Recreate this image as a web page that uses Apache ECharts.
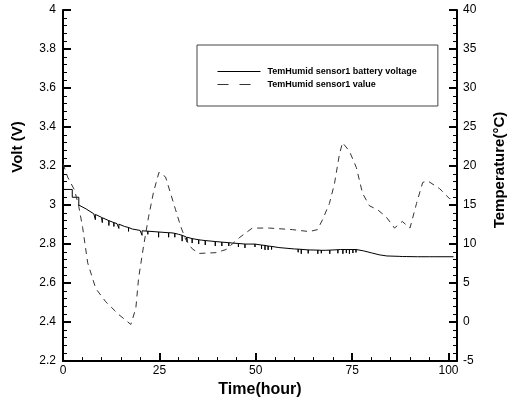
<!DOCTYPE html>
<html>
<head>
<meta charset="utf-8">
<script src="https://cdn.jsdelivr.net/npm/echarts@6/dist/echarts.min.js"></script>
<style>
  html, body { margin: 0; padding: 0; background: #fff; }
  #chart { width: 508px; height: 403px; }
</style>
</head>
<body>
<div id="chart"></div>
<script>
// x ticks (hours)
const timeTicks = [0, 25, 50, 75, 100];
const timeMinor = [5, 10, 15, 20, 30, 35, 40, 45, 55, 60, 65, 70, 80, 85, 90, 95];
const seriesNames = ["TemHumid sensor1 battery voltage", "TemHumid sensor1 value"];

// battery voltage, baseline [hour, V]
const voltBase = [
  [0, 3.08], [2.4, 3.08], [2.4, 3.04], [4.1, 3.04], [4.1, 3.0], [6, 2.98], [8, 2.955],
  [10, 2.937], [12, 2.92], [14, 2.905], [16, 2.89], [18, 2.877], [20, 2.87], [22, 2.866],
  [25, 2.862], [28, 2.858], [30, 2.85], [32, 2.836], [34, 2.826], [36, 2.82], [40, 2.812],
  [44, 2.805], [48, 2.8], [52, 2.792], [56, 2.782], [60, 2.775], [64, 2.77], [68, 2.768],
  [72, 2.772], [76.5, 2.772], [78, 2.765], [80, 2.755], [82, 2.745], [84, 2.739],
  [88, 2.736], [92, 2.735], [96, 2.735], [101.3, 2.735]
];
// short downward glitches [hour, level, low]
const voltSpikes = [
  [8.4, 2.952, 2.925], [10.2, 2.935, 2.91], [11.9, 2.92, 2.895], [13.2, 2.91, 2.89],
  [14.5, 2.902, 2.88], [17, 2.885, 2.865], [20.5, 2.868, 2.845], [22, 2.866, 2.85],
  [24.8, 2.862, 2.835], [27.4, 2.858, 2.835], [29, 2.855, 2.835], [30.9, 2.845, 2.815],
  [32.2, 2.835, 2.81], [33.5, 2.828, 2.805], [35.2, 2.822, 2.8], [36.9, 2.818, 2.795],
  [39.5, 2.813, 2.79], [41.2, 2.81, 2.79], [43, 2.807, 2.79], [45.5, 2.803, 2.785],
  [47.2, 2.8, 2.78], [49.8, 2.8, 2.785], [51.5, 2.795, 2.775], [52.4, 2.793, 2.77],
  [53.2, 2.79, 2.77], [54.1, 2.788, 2.772], [61, 2.774, 2.758], [61.8, 2.773, 2.75],
  [63.6, 2.77, 2.752], [66.1, 2.769, 2.75], [67, 2.768, 2.753], [69.2, 2.769, 2.75],
  [71.3, 2.771, 2.753], [72.6, 2.772, 2.75], [73.5, 2.772, 2.754], [74.3, 2.772, 2.75],
  [75.2, 2.772, 2.754], [76, 2.772, 2.757], [87.2, 2.737, 2.728], [89, 2.736, 2.727],
  [95, 2.735, 2.726]
];
// temperature [hour, °C]
const tempData = [
  [0, 20.3], [1.2, 18.6], [3.0, 16.9], [4.1, 14.8], [5.1, 12.1], [6.4, 7.6], [8.5, 4.3],
  [11.1, 2.6], [14.5, 0.95], [17.6, -0.3], [18.9, 1.8], [19.6, 5.6], [20.9, 9.75],
  [22.2, 13.5], [23.5, 16.7], [24.9, 19.2], [26.6, 18.6], [27.9, 16.5], [29.2, 14.4],
  [30.5, 12.3], [31.8, 10.6], [33.5, 9.4], [35.3, 8.8], [39.7, 8.9], [42.3, 9.3],
  [45.7, 10.8], [49.1, 12.05], [53.6, 12.05], [59.5, 11.85], [63.9, 11.6], [66.0, 11.85],
  [67.3, 13.1], [69.1, 15.2], [70.4, 17.7], [71.7, 21.5], [72.5, 23.0], [74.3, 21.9],
  [76.1, 19.8], [77.7, 16.5], [79.5, 14.9], [81.6, 14.4], [83.8, 13.5], [86.0, 12.05],
  [88.0, 12.9], [90.0, 12.05], [91.7, 15.2], [93.3, 17.9], [94.6, 18.1], [97.7, 17.1],
  [100.3, 15.8], [101.2, 16.3]
];

const voltData = voltBase
  .concat(voltSpikes.flatMap(s => [[s[0], s[1]], [s[0], s[2]], [s[0], s[1]]]))
  .sort((a, b) => a[0] - b[0]);

const font = "Liberation Sans, Arial, sans-serif";
const chart = echarts.init(document.getElementById("chart"));

chart.setOption({
  animation: false,
  backgroundColor: "#fff",
  grid: { left: 63, right: 51, top: 10, bottom: 36 },
  legend: {
    orient: "vertical",
    left: 197,
    top: 45,
    padding: [22, 21, 17, 20],
    itemWidth: 43,
    itemHeight: 10,
    itemGap: 4,
    borderColor: "#444",
    borderWidth: 1,
    itemStyle: { opacity: 0 },
    textStyle: { fontFamily: font, fontSize: 9, fontWeight: "bold", color: "#000", padding: [0, 0, 0, 2] },
    data: [
      { name: seriesNames[0], lineStyle: { width: 1, color: "#000" } },
      { name: seriesNames[1], lineStyle: { width: 1, color: "#333", type: [11, 11] } }
    ]
  },
  xAxis: [
    {
      type: "value",
      min: 0,
      max: 102.2,
      name: "Time(hour)",
      nameLocation: "middle",
      nameGap: 14,
      nameTextStyle: { fontFamily: font, fontSize: 16, fontWeight: "bold", color: "#000", verticalAlign: "top" },
      splitLine: { show: false },
      axisLine: { onZero: false, lineStyle: { color: "#000", width: 2 } },
      axisTick: { inside: true, length: 8, customValues: timeTicks, lineStyle: { color: "#000", width: 2 } },
      axisLabel: { customValues: timeTicks, margin: 4, fontFamily: font, fontSize: 12, color: "#000" }
    },
    {
      type: "value",
      min: 0,
      max: 102.2,
      position: "bottom",
      offset: 0,
      splitLine: { show: false },
      axisLine: { show: false, onZero: false },
      axisLabel: { show: false },
      axisTick: { inside: true, length: 4, customValues: timeMinor, lineStyle: { color: "#000", width: 1 } }
    }
  ],
  yAxis: [
    {
      type: "value",
      position: "left",
      min: 2.2,
      max: 4,
      interval: 0.2,
      splitLine: { show: false },
      axisLine: { show: true, onZero: false, lineStyle: { color: "#000", width: 2 } },
      axisTick: { inside: true, length: 8, lineStyle: { color: "#000", width: 2 } },
      minorTick: { show: true, splitNumber: 5, length: 4, lineStyle: { color: "#000", width: 1 } },
      axisLabel: { margin: 7, fontFamily: font, fontSize: 12, color: "#000" }
    },
    {
      type: "value",
      position: "right",
      min: -5,
      max: 40,
      interval: 5,
      splitLine: { show: false },
      axisLine: { show: true, onZero: false, lineStyle: { color: "#000", width: 2 } },
      axisTick: { inside: true, length: 8, lineStyle: { color: "#000", width: 2 } },
      minorTick: { show: true, splitNumber: 5, length: 4, lineStyle: { color: "#000", width: 1 } },
      axisLabel: { margin: 6, fontFamily: font, fontSize: 12, color: "#000" }
    }
  ],
  graphic: [
    {
      type: "text", x: 18, y: 147, rotation: Math.PI / 2,
      style: { text: "Volt (V)", font: "bold 15px " + font, fill: "#000", textAlign: "center", textVerticalAlign: "middle" }
    },
    {
      type: "text", x: 500, y: 170, rotation: Math.PI / 2,
      style: { text: "Temperature(°C)", font: "bold 15px " + font, fill: "#000", textAlign: "center", textVerticalAlign: "middle" }
    }
  ],
  series: [
    {
      name: seriesNames[0],
      type: "line",
      yAxisIndex: 0,
      symbol: "none",
      data: voltData,
      lineStyle: { color: "#000", width: 1 },
      itemStyle: { color: "#000" }
    },
    {
      name: seriesNames[1],
      type: "line",
      yAxisIndex: 1,
      symbol: "none",
      data: tempData,
      lineStyle: { color: "#333", width: 1, type: [6, 5] },
      itemStyle: { color: "#333" }
    }
  ]
});
</script>
</body>
</html>
